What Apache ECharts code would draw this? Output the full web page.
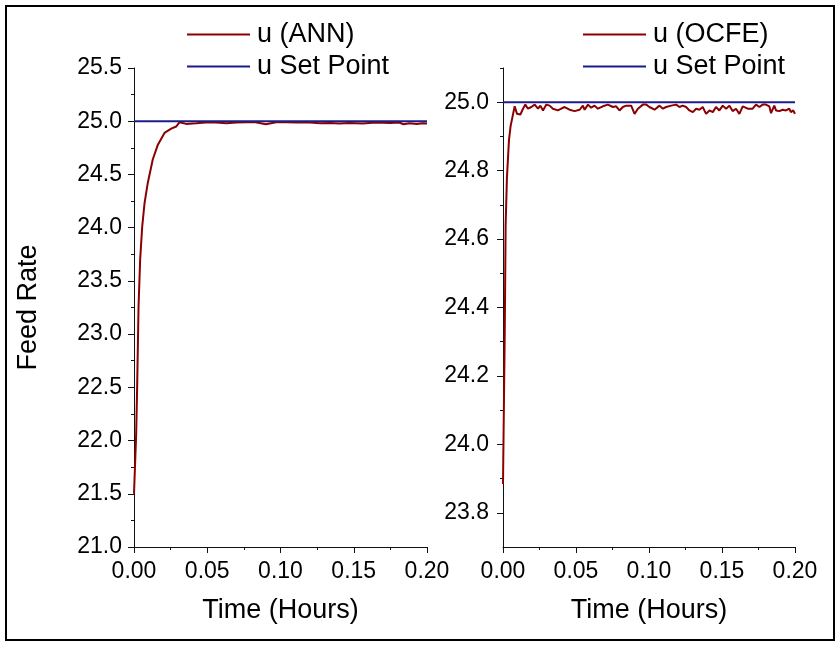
<!DOCTYPE html>
<html>
<head>
<meta charset="utf-8">
<script src="https://cdn.jsdelivr.net/npm/echarts@6/dist/echarts.min.js"></script>
<style>
html,body{margin:0;padding:0;background:#fff;}
#chart{width:840px;height:648px;}
</style>
</head>
<body>
<div id="chart"></div>
<script>
// ---- data ----
const timeANN = [0, 0.0015, 0.0022, 0.0031, 0.0042, 0.0056, 0.0072, 0.0094, 0.0128, 0.0163, 0.0208, 0.0254, 0.0288, 0.031, 0.0356, 0.0425, 0.049, 0.056, 0.063, 0.070, 0.077, 0.083, 0.090, 0.097, 0.104, 0.111, 0.120, 0.127, 0.134, 0.140, 0.147, 0.156, 0.165, 0.175, 0.181, 0.184, 0.188, 0.193, 0.197, 0.2];
const feedANN = [21.5, 22.07, 22.54, 23.26, 23.70, 24.01, 24.23, 24.42, 24.64, 24.78, 24.89, 24.93, 24.95, 24.99, 24.975, 24.981, 24.987, 24.987, 24.981, 24.987, 24.99, 24.99, 24.972, 24.99, 24.99, 24.988, 24.987, 24.981, 24.984, 24.978, 24.984, 24.978, 24.987, 24.984, 24.988, 24.972, 24.981, 24.975, 24.981, 24.978];

const timeOCFE = [0, 0.0012, 0.0018, 0.0027, 0.0041, 0.0052, 0.0064, 0.0080, 0.0096, 0.0119, 0.0137, 0.0153, 0.0171, 0.0194, 0.0217, 0.0240, 0.0256, 0.0274, 0.0297, 0.0319, 0.0342, 0.0376, 0.0399, 0.0422, 0.0456, 0.0490, 0.0525, 0.0547, 0.0559, 0.0582, 0.0604, 0.0627, 0.0650, 0.0684, 0.0718, 0.0753, 0.0775, 0.0798, 0.0821, 0.0844, 0.0878, 0.0901, 0.0924, 0.0958, 0.0981, 0.1003, 0.1038, 0.1072, 0.1095, 0.1117, 0.1152, 0.1186, 0.1209, 0.1231, 0.1254, 0.1277, 0.1300, 0.1323, 0.1345, 0.1368, 0.1391, 0.1414, 0.1437, 0.1459, 0.1482, 0.1505, 0.1528, 0.1551, 0.1573, 0.1596, 0.1619, 0.1642, 0.1676, 0.1710, 0.1733, 0.1756, 0.1779, 0.1801, 0.1824, 0.1836, 0.1858, 0.1870, 0.1893, 0.1915, 0.1938, 0.1961, 0.1972, 0.1988, 0.2];
const feedOCFE = [23.884, 24.33, 24.64, 24.78, 24.89, 24.93, 24.955, 24.988, 24.966, 24.964, 24.981, 24.993, 24.981, 24.986, 24.993, 24.981, 24.990, 24.976, 24.993, 24.990, 24.981, 24.976, 24.981, 24.986, 24.978, 24.974, 24.978, 24.990, 24.978, 24.993, 24.984, 24.990, 24.981, 24.988, 24.993, 24.986, 24.988, 24.976, 24.986, 24.990, 24.990, 24.966, 24.981, 24.993, 24.993, 24.986, 24.978, 24.990, 24.981, 24.986, 24.990, 24.993, 24.986, 24.990, 24.986, 24.976, 24.971, 24.981, 24.978, 24.986, 24.966, 24.976, 24.971, 24.986, 24.976, 24.990, 24.981, 24.990, 24.974, 24.981, 24.966, 24.988, 24.981, 24.981, 24.993, 24.986, 24.993, 24.993, 24.988, 24.968, 24.990, 24.976, 24.974, 24.978, 24.976, 24.981, 24.971, 24.976, 24.966];

const setTime = [0, 0.2];
const setValue = [25.0, 25.0];

const leftYTicks = [21.0, 21.5, 22.0, 22.5, 23.0, 23.5, 24.0, 24.5, 25.0, 25.5];
const rightYTicks = [23.8, 24.0, 24.2, 24.4, 24.6, 24.8, 25.0];
const rightYMinorTicks = [23.9, 24.1, 24.3, 24.5, 24.7, 24.9, 25.1];
const xTicks = [0.00, 0.05, 0.10, 0.15, 0.20];

const legendLeft = ['u (ANN)', 'u Set Point'];
const legendRight = ['u (OCFE)', 'u Set Point'];

// ---- chart ----
const FONT = '"Liberation Sans", Arial, Helvetica, sans-serif';
const AX = '#111';
const RED = '#8B0000';
const BLUE = '#1C1C8C';
const pairs = (t, v) => t.map((x, i) => [x, v[i]]);

const baseX = (gi) => ({
  type: 'value', gridIndex: gi, min: xTicks[0], max: xTicks[xTicks.length - 1], interval: 0.05,
  name: 'Time (Hours)', nameLocation: 'middle', nameGap: 50,
  nameTextStyle: { fontFamily: FONT, fontSize: 27, color: '#000' },
  axisLine: { show: true, onZero: false, lineStyle: { color: AX, width: 1 } },
  axisTick: { show: true, inside: false, length: 6, lineStyle: { color: AX } },
  minorTick: { show: true, splitNumber: 2, length: 3, lineStyle: { color: AX } },
  splitLine: { show: false },
  axisLabel: { fontFamily: FONT, fontSize: 23, color: '#000', margin: 13, formatter: v => v.toFixed(2) }
});

const legendBase = {
  orient: 'vertical', top: 21, padding: 0, itemWidth: 63, itemHeight: 2, itemGap: 5, icon: 'rect',
  textStyle: { fontFamily: FONT, fontSize: 27, color: '#000', lineHeight: 27, padding: [0, 0, 0, 2] }
};

const option = {
  animation: false,
  backgroundColor: '#fff',
  graphic: [{
    type: 'rect', shape: { x: 6, y: 6, width: 828, height: 634 },
    style: { fill: 'none', stroke: '#000', lineWidth: 2 }, silent: true
  }],
  legend: [
    Object.assign({ data: legendLeft, left: 187 }, legendBase),
    Object.assign({ data: legendRight, left: 583 }, legendBase)
  ],
  grid: [
    { left: 134, top: 68, width: 293, height: 479, outerBoundsMode: 'none' },
    { left: 503, top: 68, width: 292, height: 479, outerBoundsMode: 'none' }
  ],
  xAxis: [baseX(0), baseX(1)],
  yAxis: [
    { type: 'value', gridIndex: 0, min: leftYTicks[0], max: leftYTicks[leftYTicks.length - 1], interval: 0.5,
      name: 'Feed Rate', nameLocation: 'middle', nameGap: 92, nameRotate: 90,
      nameTextStyle: { fontFamily: FONT, fontSize: 27, color: '#000' },
      axisLine: { show: true, onZero: false, lineStyle: { color: AX, width: 1 } },
      axisTick: { show: true, inside: false, length: 6, lineStyle: { color: AX } },
      minorTick: { show: true, splitNumber: 2, length: 3, lineStyle: { color: AX } },
      splitLine: { show: false },
      axisLabel: { fontFamily: FONT, fontSize: 23, color: '#000', margin: 12, formatter: v => v.toFixed(1) } },
    { type: 'value', gridIndex: 1, min: 23.7, max: 25.1,
      axisLine: { show: true, onZero: false, lineStyle: { color: AX, width: 1 } },
      axisTick: { show: true, inside: false, length: 6, customValues: rightYTicks, lineStyle: { color: AX } },
      splitLine: { show: false },
      axisLabel: { fontFamily: FONT, fontSize: 23, color: '#000', margin: 14, customValues: rightYTicks, formatter: v => Number(v).toFixed(1) } },
    { type: 'value', gridIndex: 1, min: 23.7, max: 25.1, position: 'left',
      axisLine: { show: false },
      axisTick: { show: true, inside: false, length: 3, customValues: rightYMinorTicks, lineStyle: { color: AX } },
      splitLine: { show: false },
      axisLabel: { show: false } }
  ],
  series: [
    { name: 'u (ANN)', type: 'line', xAxisIndex: 0, yAxisIndex: 0, data: pairs(timeANN, feedANN),
      showSymbol: false, color: RED, lineStyle: { color: RED, width: 2 }, z: 2 },
    { name: 'u Set Point', type: 'line', xAxisIndex: 0, yAxisIndex: 0, data: pairs(setTime, setValue),
      showSymbol: false, color: BLUE, lineStyle: { color: BLUE, width: 2 }, z: 3 },
    { name: 'u (OCFE)', type: 'line', xAxisIndex: 1, yAxisIndex: 1, data: pairs(timeOCFE, feedOCFE),
      showSymbol: false, color: RED, lineStyle: { color: RED, width: 2 }, z: 2 },
    { name: 'u Set Point', type: 'line', xAxisIndex: 1, yAxisIndex: 1, data: pairs(setTime, setValue),
      showSymbol: false, color: BLUE, lineStyle: { color: BLUE, width: 2 }, z: 3 }
  ]
};

const chart = echarts.init(document.getElementById('chart'), null, { renderer: 'canvas' });
chart.setOption(option);
</script>
</body>
</html>
